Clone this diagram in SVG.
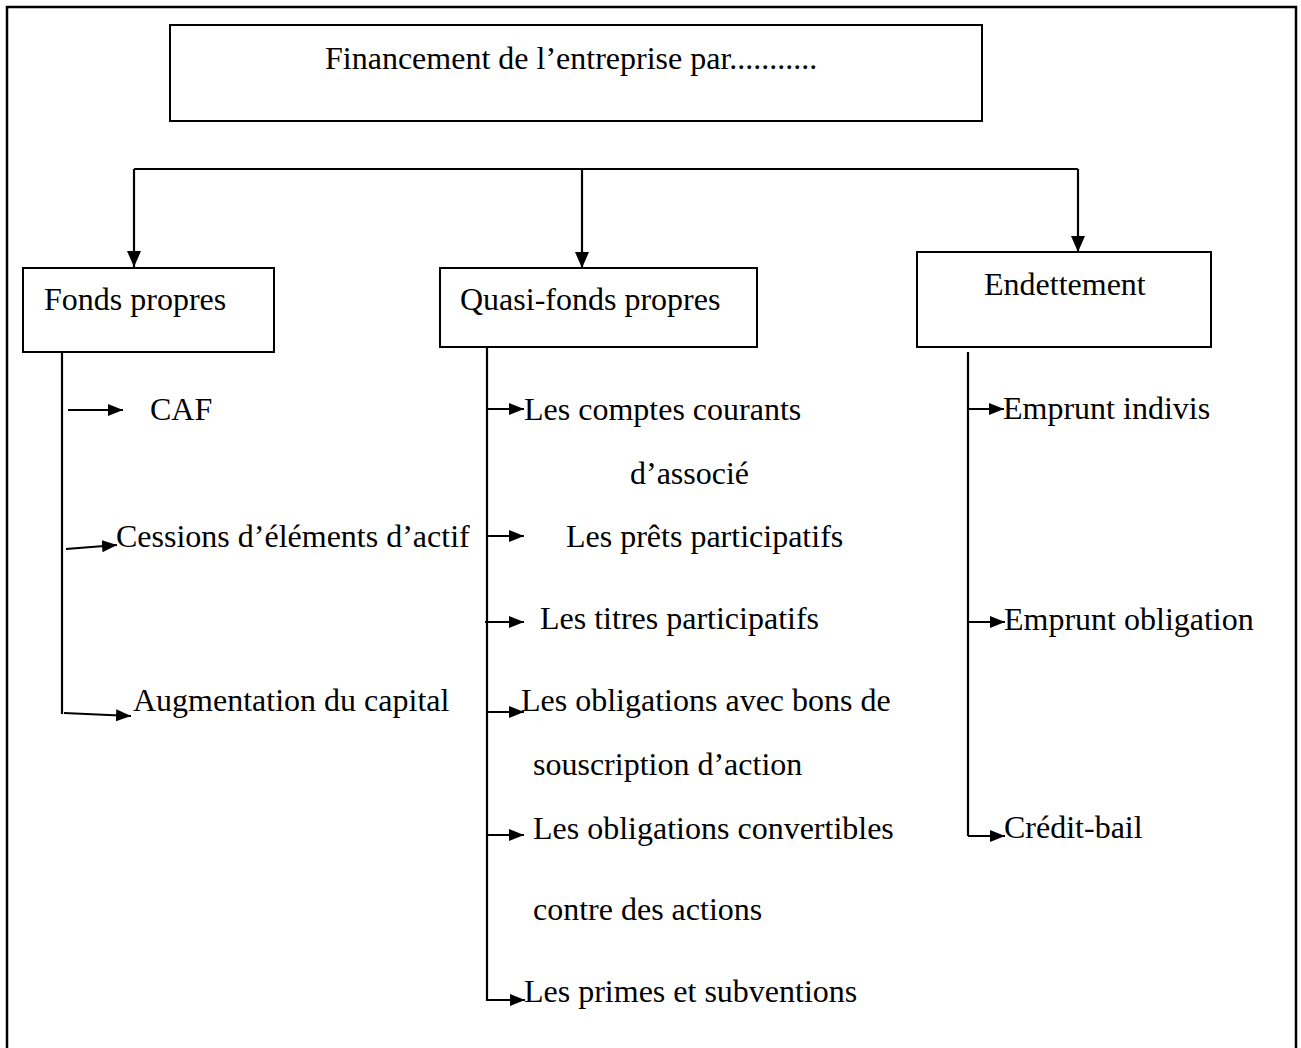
<svg xmlns="http://www.w3.org/2000/svg" width="1301" height="1048" viewBox="0 0 1301 1048">
<defs>
<marker id="big" markerUnits="userSpaceOnUse" markerWidth="16" markerHeight="16" refX="16" refY="7" orient="auto"><path d="M0,0 L16,7 L0,14 z" fill="#000"/></marker>
<marker id="sm" markerUnits="userSpaceOnUse" markerWidth="15" markerHeight="13" refX="15" refY="6" orient="auto"><path d="M0,0 L15,6 L0,12 z" fill="#000"/></marker>
</defs>
<style>
text{font-family:"Liberation Serif","Times New Roman",serif;font-size:32px;fill:#000}
.box{fill:#fff;stroke:#000;stroke-width:2}
.ln{fill:none;stroke:#000;stroke-width:2.2}
.ar{fill:none;stroke:#000;stroke-width:2.2;marker-end:url(#sm)}
.drop{fill:none;stroke:#000;stroke-width:2.2;marker-end:url(#big)}
</style>
<rect x="0" y="0" width="1301" height="1048" fill="#fff"/>
<rect x="7" y="7" width="1289" height="1060" fill="none" stroke="#000" stroke-width="2.5"/>
<g id="root">
<rect class="box" x="170" y="25" width="812" height="96"/>
<text x="325" y="69">Financement de l’entreprise par...........</text>
</g>
<g id="fonds">
<rect class="box" x="23" y="268" width="251" height="84"/>
<text x="44" y="310">Fonds propres</text>
</g>
<g id="quasi">
<rect class="box" x="440" y="268" width="317" height="79"/>
<text x="460" y="310">Quasi-fonds propres</text>
</g>
<g id="endet">
<rect class="box" x="917" y="252" width="294" height="95"/>
<text x="984" y="295">Endettement</text>
</g>
<g id="items-fonds">
<text x="150" y="420">CAF</text>
<text x="116" y="547">Cessions d’éléments d’actif</text>
<text x="133" y="711">Augmentation du capital</text>
</g>
<g id="items-quasi">
<text x="524" y="420">Les comptes courants</text>
<text x="630" y="484">d’associé</text>
<text x="566" y="547">Les prêts participatifs</text>
<text x="540" y="629">Les titres participatifs</text>
<text x="521" y="711">Les obligations avec bons de</text>
<text x="533" y="775">souscription d’action</text>
<text x="533" y="839">Les obligations convertibles</text>
<text x="533" y="920">contre des actions</text>
<text x="524" y="1002">Les primes et subventions</text>
</g>
<g id="items-endet">
<text x="1003" y="419">Emprunt indivis</text>
<text x="1004" y="630">Emprunt obligation</text>
<text x="1004" y="838">Crédit-bail</text>
</g>
<g id="connectors">
<path class="ln" d="M134,169 H1078"/>
<path class="drop" d="M134,169 V267"/>
<path class="drop" d="M582,169 V268"/>
<path class="drop" d="M1078,169 V252"/>
<path class="ln" d="M62,352 V714"/>
<path class="ar" d="M68,410 H123"/>
<path class="ar" d="M66,549 L117,545"/>
<path class="ar" d="M64,713 L131,716"/>
<path class="ln" d="M487,347 V1001"/>
<path class="ar" d="M487,409 H524"/>
<path class="ar" d="M487,536 H524"/>
<path class="ar" d="M485,622 H524"/>
<path class="ar" d="M487,712 H524"/>
<path class="ar" d="M487,835 H524"/>
<path class="ar" d="M487,1000 H525"/>
<path class="ln" d="M968,352 V836"/>
<path class="ar" d="M968,409 H1004"/>
<path class="ar" d="M968,622 H1005"/>
<path class="ar" d="M968,836 H1005"/>
</g>
</svg>
